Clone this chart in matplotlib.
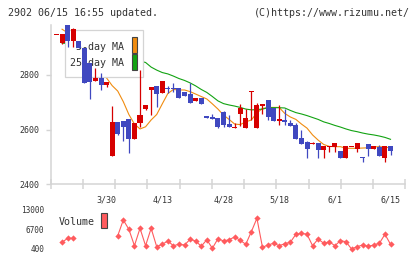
import numpy as np
import matplotlib
matplotlib.use("Agg")
import matplotlib.pyplot as plt
from matplotlib.patches import Rectangle

# ---------------- data ----------------
dates = ["3/16", "3/17", "3/18", "3/19", "3/23", "3/24", "3/25", "3/26", "3/27", "3/30",
         "3/31", "4/1", "4/2", "4/3", "4/6", "4/7", "4/8", "4/9", "4/10", "4/13",
         "4/14", "4/15", "4/16", "4/17", "4/20", "4/21", "4/22", "4/23", "4/24", "4/27",
         "4/28", "4/30", "5/1", "5/7", "5/8", "5/11", "5/12", "5/13", "5/14", "5/15",
         "5/18", "5/19", "5/20", "5/21", "5/22", "5/25", "5/26", "5/27", "5/28", "5/29",
         "6/1", "6/2", "6/3", "6/4", "6/5", "6/8", "6/9", "6/10", "6/11", "6/12", "6/15"]

opens = [2949, 2918, 2983, 2926, 2926, 2899, 2845, 2779, 2790, 2764,
         2504, 2627, 2631, 2637, 2566, 2625, 2674, 2745, 2760, 2733,
         2750, 2750, 2752, 2739, 2730, 2706, 2716, 2650, 2646, 2642,
         2664, 2620, 2607, 2658, 2607, 2740, 2607, 2686, 2708, 2679,
         2632, 2635, 2625, 2616, 2569, 2554, 2548, 2549, 2525, 2538,
         2534, 2521, 2496, 2538, 2529, 2499, 2547, 2529, 2536, 2496, 2539]
highs = [2950, 2950, 2983, 2971, 2926, 2899, 2845, 2825, 2808, 2774,
         2686, 2627, 2631, 2639, 2625, 2818, 2690, 2756, 2760, 2778,
         2760, 2772, 2752, 2739, 2769, 2716, 2716, 2650, 2657, 2642,
         2668, 2653, 2623, 2694, 2674, 2741, 2696, 2694, 2708, 2679,
         2690, 2674, 2635, 2625, 2598, 2558, 2554, 2551, 2539, 2539,
         2550, 2521, 2539, 2539, 2550, 2499, 2547, 2539, 2543, 2539, 2539]
lows = [2949, 2914, 2904, 2902, 2899, 2772, 2712, 2779, 2745, 2757,
        2504, 2580, 2559, 2513, 2566, 2608, 2671, 2653, 2681, 2733,
        2735, 2738, 2717, 2723, 2698, 2706, 2695, 2643, 2640, 2607,
        2610, 2608, 2607, 2613, 2607, 2635, 2607, 2657, 2635, 2632,
        2616, 2616, 2614, 2566, 2547, 2496, 2548, 2496, 2496, 2518,
        2518, 2496, 2496, 2538, 2518, 2482, 2503, 2529, 2503, 2482, 2506]
closes = [2950, 2950, 2926, 2969, 2899, 2772, 2774, 2790, 2764, 2774,
          2629, 2583, 2610, 2566, 2625, 2653, 2690, 2756, 2730, 2778,
          2749, 2749, 2717, 2723, 2698, 2716, 2695, 2643, 2640, 2610,
          2618, 2608, 2608, 2679, 2642, 2741, 2690, 2694, 2647, 2632,
          2638, 2629, 2614, 2566, 2547, 2529, 2549, 2525, 2539, 2539,
          2550, 2496, 2539, 2539, 2550, 2494, 2529, 2539, 2503, 2539, 2521]

ma5 = [np.nan, 2968, 2955, 2950, 2935, 2905, 2870, 2840, 2808, 2789,
       2761, 2741, 2702, 2655, 2620, 2602, 2610, 2635, 2655, 2694,
       2732, 2747, 2745, 2745, 2739, 2730, 2721, 2712, 2694, 2675,
       2653, 2637, 2620, 2618, 2628, 2635, 2661, 2677, 2681, 2681,
       2681, 2659, 2646, 2637, 2620, 2605, 2580, 2561, 2545, 2538,
       2537, 2537, 2531, 2531, 2531, 2532, 2533, 2536, 2537, 2535, 2533]
ma25 = [np.nan, 2917, 2915, 2913, 2910, 2905, 2900, 2895, 2890, 2885,
        2878, 2872, 2867, 2862, 2857, 2851, 2846, 2829, 2818, 2809,
        2804, 2796, 2787, 2780, 2771, 2760, 2747, 2736, 2721, 2705,
        2695, 2690, 2686, 2681, 2675, 2672, 2673, 2675, 2680, 2680,
        2680, 2679, 2670, 2662, 2657, 2651, 2644, 2637, 2628, 2622,
        2615, 2609, 2602, 2596, 2592, 2587, 2583, 2580, 2576, 2571, 2564]

volume = [np.nan, 2527, 3796, 3796, np.nan, np.nan, np.nan, np.nan, np.nan, np.nan,
          np.nan, 4621, 9605, 6653, 1447, 6970, 1447, 6970, 1130, 1892,
          2939, 1447, 1892, 1670, 3479, 2939, 1257, 3352, 622, 3669,
          2939, 3352, 4209, 3161, 1892, 5891, 10144, 940, 1670, 2209,
          1447, 2082, 2527, 5066, 5383, 5066, 1447, 3574, 2209, 2717,
          1447, 3034, 2717, 400, 1130, 1670, 1257, 1670, 2209, 5066, 1892]

label_dates = ["3/30", "4/13", "4/28", "5/18", "6/1", "6/15"]
price_ticks = [2400, 2600, 2800]
volume_ticks = [400, 6700, 13000]

# ---------------- style ----------------
UP = "#d60000"
DOWN = "#4048c0"
C_MA5 = "#f08c10"
C_MA25 = "#12a312"
C_VOL = "#ff5b5e"
GRID = "#d4d4d4"
TXT = "#333333"
MONO = "DejaVu Sans Mono"

W, H = 420, 259
def fx(p):
    return p / W
def fy(p):
    return 1 - p / H

X0, DX = 56.5, 5.567          # pixel position of first candle, pixel step
XL, XR = 50.7, 405.3          # plot left/right in pixels
YT, YB = 25.0, 184.0          # price panel top/bottom pixels
VT, VB = 209.3, 249.0         # volume panel top/bottom pixels
xlim = ((XL - X0) / DX, (XR - X0) / DX)

fig = plt.figure(figsize=(W / 100, H / 100), dpi=100)
fig.patch.set_facecolor("white")

# ---------------- price panel ----------------
ax = fig.add_axes([fx(XL), fy(YB), (XR - XL) / W, (YB - YT) / H])
ax.set_facecolor("none")
x = np.arange(len(dates))
o = np.array(opens, float); c = np.array(closes, float)
hi = np.array(highs, float); lo = np.array(lows, float)
up = c >= o
cols = np.where(up, UP, DOWN)

ax.plot(x, ma5, color=C_MA5, lw=0.8, zorder=1)
ax.plot(x, ma25, color=C_MA25, lw=0.8, zorder=1)

ax.vlines(x, lo, hi, colors=cols, lw=0.9, zorder=3)
minh = 3.8
bh = np.maximum(np.abs(c - o), minh)
bb = np.where(np.abs(c - o) < minh, (o + c) / 2 - bh / 2, np.minimum(o, c))
ax.bar(x, bh, bottom=bb, width=0.9, color=cols, linewidth=0, zorder=3)

ax.set_xlim(*xlim)
ax.set_ylim(2400, 2400 + (YB - YT) / 0.2725)

for s in ["top", "right"]:
    ax.spines[s].set_visible(False)
for s in ["left", "bottom"]:
    ax.spines[s].set_color(GRID)
    ax.spines[s].set_linewidth(1.1)

ax.set_yticks(price_ticks)
ax.set_yticklabels([str(v) for v in price_ticks], family=MONO, fontsize=6, color=TXT)
ax.tick_params(axis="y", length=3.6, width=1.0, color=GRID, direction="out", pad=4.2)

ax.set_xticks([dates.index(d) for d in label_dates])
ax.set_xticklabels(label_dates, family=MONO, fontsize=6, color=TXT)
ax.tick_params(axis="x", which="major", length=0, pad=8.0)
ax.set_xticks(np.linspace(xlim[0], xlim[1], 12), minor=True)
ax.tick_params(axis="x", which="minor", length=6.7, width=1.1, color=GRID, direction="inout")

# legend box (below candles, above MA lines)
tf = fig.transFigure
ax.add_patch(Rectangle((fx(65.3), fy(77.3)), (143.3 - 65.3) / W, (77.3 - 30) / H,
                       transform=tf, facecolor="white", edgecolor=GRID, lw=0.9,
                       zorder=2, clip_on=False))
ax.text(fx(124), fy(46.7), "5-day MA", transform=tf, ha="right", va="center",
        family=MONO, fontsize=7.2, color=TXT, zorder=2.1)
ax.text(fx(124), fy(63.3), "25-day MA", transform=tf, ha="right", va="center",
        family=MONO, fontsize=7.2, color=TXT, zorder=2.1)
ax.add_patch(Rectangle((fx(131.7), fy(53.3)), 5.6 / W, 16 / H, transform=tf,
                       facecolor=C_MA5, edgecolor="#444444", lw=0.8, zorder=2.1, clip_on=False))
ax.add_patch(Rectangle((fx(131.7), fy(69.7)), 5.6 / W, 15.7 / H, transform=tf,
                       facecolor=C_MA25, edgecolor="#444444", lw=0.8, zorder=2.1, clip_on=False))

# ---------------- volume panel ----------------
ax2 = fig.add_axes([fx(XL), fy(VB), (XR - XL) / W, (VB - VT) / H])
ax2.set_facecolor("none")
ax2.plot(x, volume, color=C_VOL, lw=0.8, marker="D", ms=3.2, mew=0, zorder=3, clip_on=False)
ax2.set_xlim(*xlim)
ax2.set_ylim(400, 13000)
for s in ax2.spines.values():
    s.set_visible(False)
ax2.set_xticks([])
ax2.set_yticks(volume_ticks)
ax2.set_yticklabels([str(v) for v in volume_ticks], family=MONO, fontsize=5.6, color=TXT)
ax2.tick_params(axis="y", length=0, pad=4.6)

ax2.text(fx(58.3), fy(221.7), "Volume", transform=tf, ha="left", va="center",
         family=MONO, fontsize=7.2, color=TXT)
ax2.add_patch(Rectangle((fx(101.2), fy(228.3)), 6 / W, 15 / H, transform=tf,
                        facecolor=C_VOL, edgecolor="#444444", lw=0.8, clip_on=False))

# ---------------- header ----------------
fig.text(fx(8.3), fy(15.8), "2902 06/15 16:55 updated.", ha="left", va="baseline",
         family=MONO, fontsize=7.2, color=TXT)
fig.text(fx(410), fy(15.8), "(C)https://www.rizumu.net/", ha="right", va="baseline",
         family=MONO, fontsize=7.2, color=TXT)

fig.savefig("out.png", dpi=100, facecolor="white")
